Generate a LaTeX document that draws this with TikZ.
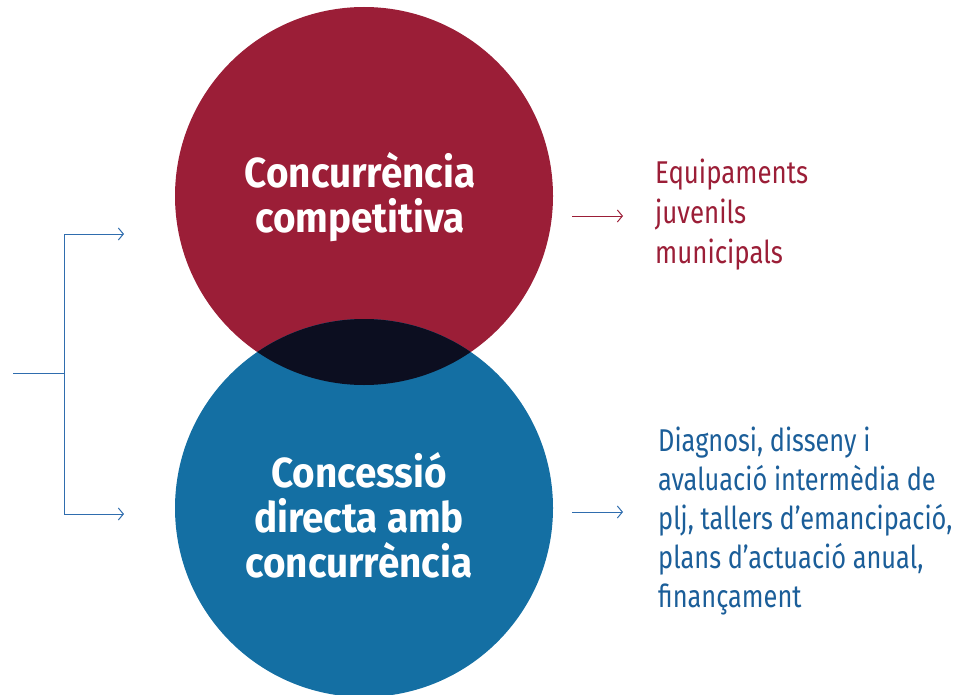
\documentclass[tikz,border=0pt]{standalone}
\usepackage{fontspec}
\setmainfont{Fira Sans}[FakeStretch=0.82]
\newfontfamily\descnarrow{Fira Sans}[FakeStretch=0.805]
\newfontfamily\boldcond{Fira Sans}[FakeStretch=0.92,UprightFont=* Bold]
\usetikzlibrary{arrows.meta}
\definecolor{cred}{HTML}{9B1E37}
\definecolor{cblue}{HTML}{146FA3}
\definecolor{cdark}{HTML}{0C0E20}
\definecolor{cline}{HTML}{2F6DAE}
\definecolor{ctext}{HTML}{1B5E99}
\tikzset{
  conn/.style={line width=1pt,-{Straight Barb[length=5pt,width=12pt,line width=1pt]}},
  title/.style={text=white,font=\boldcond\fontsize{42}{45}\selectfont,align=center,anchor=base,inner sep=0pt},
  desc/.style={font=\fontsize{31.5}{40}\selectfont,align=left,anchor=base west,inner sep=0pt}
}
\begin{document}
\begin{tikzpicture}[x=1pt,y=-1pt]
\useasboundingbox (0,0) rectangle (957,695);
\fill[cred] (364,196) circle (189);
\fill[cblue] (364,508) circle (189);
\begin{scope}
\clip (364,196) circle (189);
\fill[cdark] (364,508) circle (189);
\end{scope}
\node[title] (t1) at (360,232) {Concurrència\\competitiva};
\node[title] (t2) at (359,577) {Concessió\\directa amb\\concurrència};
\coordinate (in) at (13,373);
\coordinate (mid) at (64,373);
\coordinate (top) at (64,234);
\coordinate (bot) at (64,514);
\coordinate (a1) at (124,234);
\coordinate (a2) at (124,514);
\draw[cline,line width=1pt] (in) -- (mid);
\draw[cline,line width=1pt] (top) -- (bot);
\draw[cline,conn] (top) -- (a1);
\draw[cline,conn] (bot) -- (a2);
\coordinate (r1) at (572,216);
\coordinate (r2) at (623,216);
\coordinate (b1) at (572,512);
\coordinate (b2) at (623,512);
\draw[cred,conn] (r1) -- (r2);
\draw[cline,conn] (b1) -- (b2);
\node[desc,text=cred] (d1) at (655,263) {Equipaments\\juvenils\\municipals};
\node[desc,text=ctext,font=\descnarrow\fontsize{31.5}{39}\selectfont] (d2) at (658,607) {Diagnosi, disseny i\\avaluació intermèdia de\\plj, tallers d’emancipació,\\plans d’actuació anual,\\finançament};
\end{tikzpicture}
\end{document}
